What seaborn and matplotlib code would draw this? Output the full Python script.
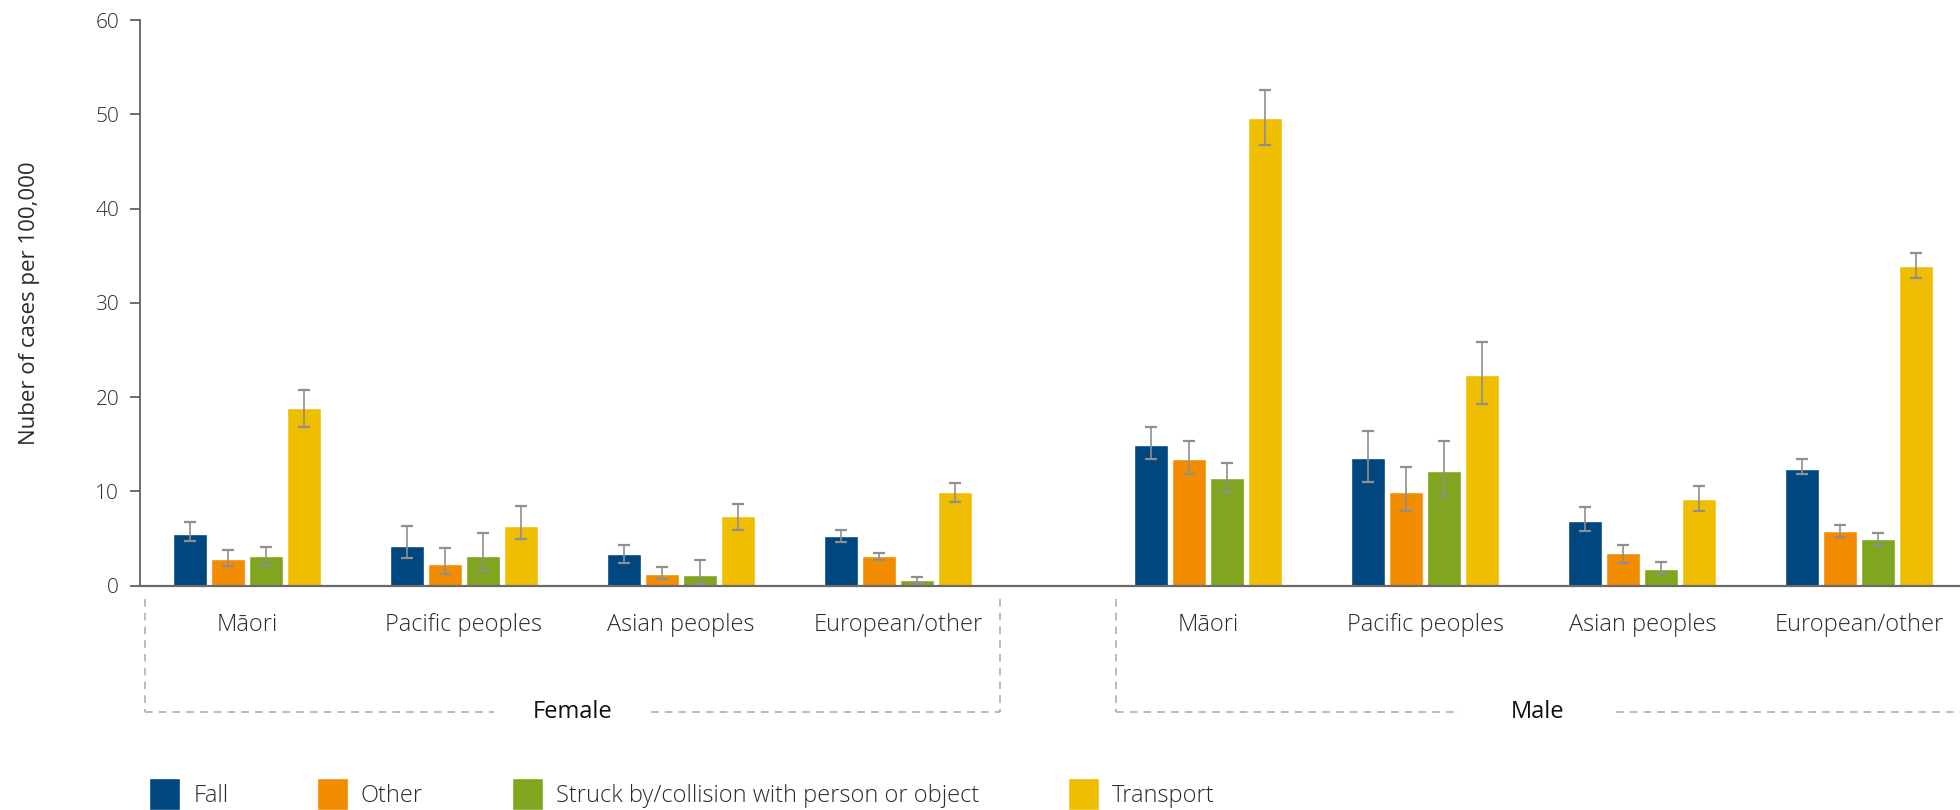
import numpy as np
import pandas as pd
import matplotlib
matplotlib.use("Agg")
import matplotlib.pyplot as plt
import matplotlib.transforms as mtransforms
from matplotlib import font_manager
import seaborn as sns

# ---------------- data ----------------
sexes = ["Female", "Male"]
ethnicities = ["Māori", "Pacific peoples", "Asian peoples", "European/other"]
causes = ["Fall", "Other", "Struck by/collision with person or object", "Transport"]
colors = ["#00467F", "#F28C00", "#80A51E", "#F0BE00"]

# values ordered: Female (Māori, Pacific, Asian, European), Male (Māori, Pacific, Asian, European)
fall_rate = [5.5, 4.25, 3.4, 5.3, 14.9, 13.5, 6.85, 12.35]
fall_lo = [4.7, 2.9, 2.4, 4.6, 13.4, 11.0, 5.8, 11.8]
fall_hi = [6.75, 6.3, 4.35, 5.9, 16.8, 16.4, 8.3, 13.45]

other_rate = [2.8, 2.35, 1.2, 3.2, 13.4, 9.9, 3.45, 5.8]
other_lo = [2.05, 1.25, 0.7, 2.75, 11.8, 7.9, 2.45, 5.2]
other_hi = [3.75, 4.05, 1.95, 3.5, 15.3, 12.6, 4.35, 6.45]

struck_rate = [3.2, 3.1, 1.1, 0.6, 11.4, 12.2, 1.8, 4.95]
struck_lo = [2.2, 1.55, 0.15, 0.25, 9.9, 9.5, 1.25, 4.3]
struck_hi = [4.15, 5.55, 2.7, 0.95, 13.0, 15.3, 2.55, 5.6]

transport_rate = [18.8, 6.35, 7.4, 9.9, 49.6, 22.3, 9.2, 33.9]
transport_lo = [16.8, 5.0, 5.95, 8.9, 46.7, 19.3, 7.95, 32.6]
transport_hi = [20.8, 8.45, 8.7, 10.85, 52.6, 25.9, 10.55, 35.3]

y_ticks = [0, 10, 20, 30, 40, 50, 60]
y_label = "Nuber of cases per 100,000"

# ---------------- fonts ----------------
def pick_font(cands):
    for f in cands:
        try:
            font_manager.findfont(font_manager.FontProperties(family=f), fallback_to_default=False)
            return f
        except Exception:
            pass
    return "DejaVu Sans"

sns.set_theme(style="white")
FONT = pick_font(["Liberation Sans Narrow", "Open Sans", "DejaVu Sans"])
plt.rcParams["font.family"] = [FONT, "DejaVu Sans"]
plt.rcParams["font.weight"] = "light"
TXT = "#2b2b2b"
FS = 17

# ---------------- build frame ----------------
group_gap = 0.43
rates = [fall_rate, other_rate, struck_rate, transport_rate]
los = [fall_lo, other_lo, struck_lo, transport_lo]
his = [fall_hi, other_hi, struck_hi, transport_hi]
rows = []
for ci, c in enumerate(causes):
    k = 0
    for si, s in enumerate(sexes):
        for ei, e in enumerate(ethnicities):
            pos = ei + si * (len(ethnicities) + group_gap)
            rows.append(dict(sex=s, eth=e, pos=pos, cause=c,
                             rate=rates[ci][k], lo=los[ci][k], hi=his[ci][k]))
            k += 1
df = pd.DataFrame(rows)

W, H = 1960, 810
fig = plt.figure(figsize=(W / 100, H / 100), dpi=100)
ax_left, ax_bottom_px, ax_top_px = 140, 585.7, 20
ax = fig.add_axes([ax_left / W, 1 - ax_bottom_px / H, 1 - ax_left / W, (ax_bottom_px - ax_top_px) / H])

sns.barplot(data=df, x="pos", y="rate", hue="cause", hue_order=causes,
            palette=colors, native_scale=True, width=0.7, gap=0.1,
            errorbar=None, saturation=1, ax=ax, legend=True)

# error bars from the data, located on the drawn bars
for cont, c in zip(ax.containers, causes):
    sub = df[df.cause == c].sort_values("pos")
    xs = sorted([b.get_x() + b.get_width() / 2 for b in cont])
    ax.errorbar(xs, sub.rate.values,
                yerr=[sub.rate.values - sub.lo.values, sub.hi.values - sub.rate.values],
                fmt="none", ecolor="#8f8f8f", elinewidth=1.2, capsize=4, capthick=1.6, zorder=3)

# axes styling
ax.set_ylim(0, 60)
ax.set_yticks(y_ticks)
ax.set_xlim(-0.493, 7.894)
positions = sorted(df.pos.unique())
labels = [df[df.pos == p].eth.iloc[0] for p in positions]
ax.set_xticks(positions)
ax.set_xticklabels(labels, fontsize=FS, color=TXT)
ax.tick_params(axis="x", length=0, pad=20)
ax.tick_params(axis="y", length=7, width=1.2, color="#555555", pad=8, labelsize=15, labelcolor=TXT, left=True)
ax.set_xlabel("")
ax.set_ylabel(y_label, fontsize=16, color=TXT)
ax.yaxis.set_label_coords(-0.055, 0.5)
for side in ["top", "right"]:
    ax.spines[side].set_visible(False)
ax.spines["left"].set_color("#555555")
ax.spines["left"].set_linewidth(1.2)
ax.spines["bottom"].set_color("#6a6a6a")
ax.spines["bottom"].set_linewidth(1.6)
ax.grid(False)

# dashed group brackets (x in data units, y in figure px)
blend = mtransforms.blended_transform_factory(ax.transData, fig.transFigure)
def fy(px):
    return 1 - px / H
top_px, bot_px = 599, 712
dash = dict(color="#a8a8a8", lw=1.1, linestyle=(0, (5, 4)), transform=blend, clip_on=False)
half_gap = 0.36
box_pads = [0.47, 0.425]
n = len(ethnicities)
xmax = ax.get_xlim()[1]
for si, s in enumerate(sexes):
    p0 = si * (n + group_gap)
    x0 = p0 - box_pads[si]
    x1 = p0 + n - 1 + box_pads[si] if si == 0 else xmax + 0.5
    xc = (x0 + min(x1, xmax)) / 2
    ax.plot([x0, x0], [fy(top_px), fy(bot_px)], **dash)
    if si == 0:
        ax.plot([x1, x1], [fy(top_px), fy(bot_px)], **dash)
    ax.plot([x0, xc - half_gap], [fy(bot_px)] * 2, **dash)
    ax.plot([xc + half_gap, x1], [fy(bot_px)] * 2, **dash)
    ax.text(xc, fy(bot_px), s, transform=blend, ha="center", va="center",
            fontsize=17, color="#111111", fontweight="normal")

# legend
sns.move_legend(ax, "lower left", bbox_to_anchor=(149 / W, 0), bbox_transform=fig.transFigure,
                ncol=4, frameon=False, title=None, fontsize=FS,
                handlelength=1.32, handleheight=1.72, handletextpad=0.55,
                columnspacing=3.75, borderpad=0, borderaxespad=0)
for t in ax.get_legend().get_texts():
    t.set_color(TXT)

fig.savefig("out.png", dpi=100)
